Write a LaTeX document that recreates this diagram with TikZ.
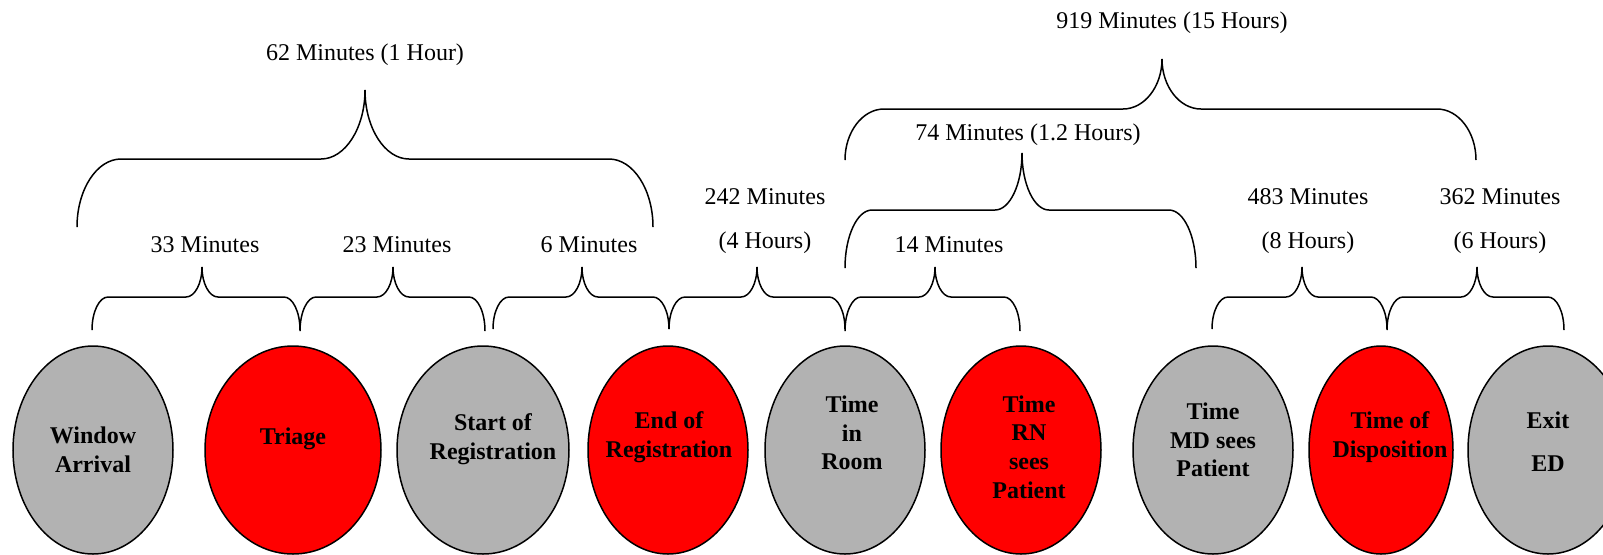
\documentclass[tikz,border=0pt]{standalone}
\usepackage{fontspec}
\setmainfont{Liberation Serif}
\usetikzlibrary{shapes.geometric}

% curly brace with rounded feet: left x, tip x, right x, foot y, bar y, tip y, curl width
\newcommand{\timebrace}[7]{%
  \draw[bracepath] (#1,#4)
    .. controls (#1,{#4-0.55*(#4-#5)}) and ({#1+0.45*#7},#5) .. ({#1+#7},#5)
    -- ({#2-#7},#5)
    .. controls ({#2-0.45*#7},#5) and (#2,{#6+0.55*(#5-#6)}) .. (#2,#6)
    .. controls (#2,{#6+0.55*(#5-#6)}) and ({#2+0.45*#7},#5) .. ({#2+#7},#5)
    -- ({#3-#7},#5)
    .. controls ({#3-0.45*#7},#5) and (#3,{#4-0.55*(#4-#5)}) .. (#3,#4);}

\begin{document}
\begin{tikzpicture}[
    x=0.5pt, y=-0.5pt,
    every node/.style={font=\fontsize{12}{14.3}\selectfont, inner sep=1pt},
    bracepath/.style={line width=0.75pt},
    event/.style={ellipse, draw, line width=0.75pt, inner sep=0pt,
                  minimum width=80pt, minimum height=104pt},
    grayev/.style={event, fill=gray!60},
    redev/.style={event, fill=red},
    evtext/.style={font=\fontsize{12}{14.3}\selectfont\bfseries, align=center},
    twoline/.style={align=center}
]
\useasboundingbox (0,0) rectangle (1603,554);

% event centres (x), shared row (y)
\def\xwa{93}
\def\xtr{293}
\def\xsr{483}
\def\xer{668}
\def\xtm{845}
\def\xrn{1021}
\def\xmd{1213}
\def\xdp{1381}
\def\xed{1548}
\def\ye{450}

% events along the stay
\node[grayev] (wa) at (\xwa,\ye) {};
\node[redev, minimum width=88pt] (tr) at (\xtr,\ye) {};
\node[grayev, minimum width=86pt] (sr) at (\xsr,\ye) {};
\node[redev] (er) at (\xer,\ye) {};
\node[grayev] (tm) at (\xtm,\ye) {};
\node[redev] (rn) at (\xrn,\ye) {};
\node[grayev] (md) at (\xmd,\ye) {};
\node[redev, minimum width=72pt] (dp) at (\xdp,\ye) {};
\node[grayev] (ed) at (\xed,\ye) {};

% event names
\node[evtext] (waT) at ([shift={(0,0)}]wa.center)   {Window\\Arrival};
\node[evtext] (trT) at ([shift={(0,-11)}]tr.center) {Triage};
\node[evtext] (srT) at ([shift={(10,-11)}]sr.center) {Start of\\Registration};
\node[evtext] (erT) at ([shift={(1,-13)}]er.center) {End of\\Registration};
\node[evtext] (tmT) at ([shift={(7,-17)}]tm.center) {Time\\in\\Room};
\node[evtext] (rnT) at ([shift={(8,-3)}]rn.center)  {Time\\RN\\sees\\Patient};
\node[evtext] (mdT) at ([shift={(0,-10)}]md.center) {Time\\MD sees\\Patient};
\node[evtext] (dpT) at ([shift={(9,-13)}]dp.center) {Time of\\Disposition};
\node[evtext] (edT) at ([shift={(0,-8)}]ed.center)  {Exit\\[7.2pt]ED};

% first level: between neighbouring events
\timebrace{92}{202}{300}{330}{297}{267}{16}
\timebrace{300}{393}{485}{331}{297}{267}{16}
\timebrace{493}{582}{669}{329}{297}{267}{16}
\timebrace{669}{757}{845}{329}{297}{267}{16}
\timebrace{845}{935}{1020}{331}{297}{267}{16}
\timebrace{1212}{1302}{1387}{329}{297}{267}{16}
\timebrace{1387}{1477}{1564}{330}{297}{267}{16}

\node (d33)  at (205,245) {33 Minutes};
\node (d23)  at (397,245) {23 Minutes};
\node (d6)   at (589,245) {6 Minutes};
\node[twoline] (d242) at (765,221) {242 Minutes\\[7.7pt](4 Hours)};
\node (d14)  at (949,245) {14 Minutes};
\node[twoline] (d483) at (1308,221) {483 Minutes\\[7.7pt](8 Hours)};
\node[twoline] (d362) at (1500,221) {362 Minutes\\[7.7pt](6 Hours)};

% second level
\timebrace{77}{365}{653}{227}{159}{90}{44}
\timebrace{845}{1022}{1196}{268}{210}{153}{27}
\node (d62) at (365,55)   {62 Minutes (1 Hour)};
\node (d74) at (1028,135) {74 Minutes (1.2 Hours)};

% third level
\timebrace{845}{1162}{1476}{160}{109}{59}{39}
\node (d919) at (1172,23) {919 Minutes (15 Hours)};

\end{tikzpicture}
\end{document}
